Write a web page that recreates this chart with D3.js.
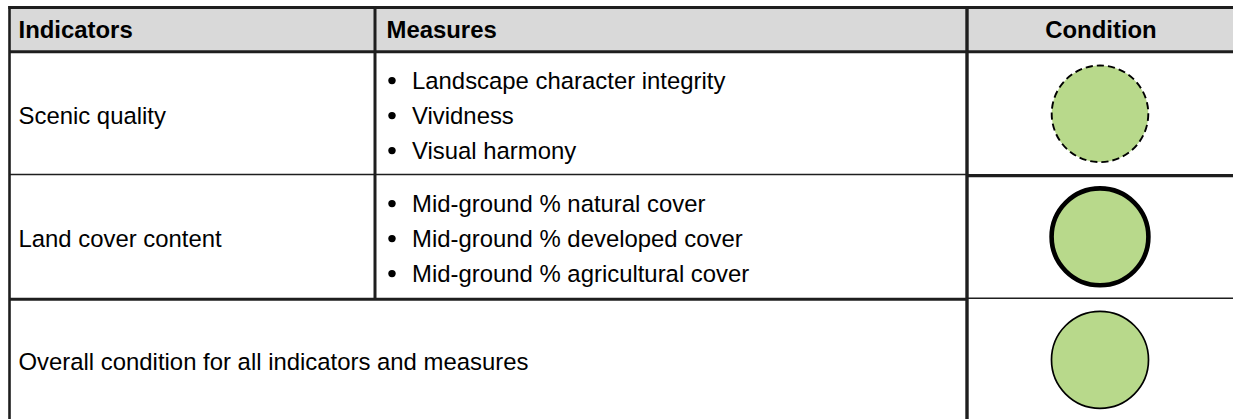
<!DOCTYPE html>
<html>
<head>
<meta charset="utf-8">
<script src="https://cdn.jsdelivr.net/npm/d3@7"></script>
<style>
  html, body { margin: 0; padding: 0; background: #fff; }
  svg { display: block; }
  text { font-family: "Liberation Sans", Arial, Helvetica, sans-serif; fill: #000; }
</style>
</head>
<body>
<svg id="chart" width="1233" height="419"></svg>
<script>
// ---- Data ----
const headers = ["Indicators", "Measures", "Condition"];
const indicators = ["Scenic quality", "Land cover content"];
const measures = [
  ["Landscape character integrity", "Vividness", "Visual harmony"],
  ["Mid-ground % natural cover", "Mid-ground % developed cover", "Mid-ground % agricultural cover"]
];
const overallLabel = "Overall condition for all indicators and measures";
const conditionStyles = ["dashed", "thick", "thin"]; // one per row (last = overall)
const conditionFill = "#b8d98b";

// ---- Layout ----
const svg = d3.select("#chart");
const W = 1233;
const lineColor = "#1e1e1e";
const fontSize = 23.9;

const rowKeys = d3.range(conditionStyles.length);
const y = d3.scaleBand().domain(rowKeys).range([52, 421]).padding(0);
const headerTop = 7.5, headerBottom = 51.7;

// column boundaries
const x = d3.scaleOrdinal().domain(["left", "measures", "condition", "right"]).range([9.5, 375, 967, 1233]);
const condCenter = (x("condition") + x("right")) / 2;

// header background
svg.append("rect")
  .attr("x", x("left")).attr("y", headerTop)
  .attr("width", W - x("left")).attr("height", headerBottom - headerTop)
  .attr("fill", "#d9d9d9");

// header texts
svg.append("text").attr("x", 18.5).attr("y", 38)
  .attr("font-size", fontSize).attr("font-weight", "bold").text(headers[0]);
svg.append("text").attr("x", 386.5).attr("y", 38)
  .attr("font-size", fontSize).attr("font-weight", "bold").text(headers[1]);
svg.append("text").attr("x", condCenter + 1).attr("y", 38).attr("text-anchor", "middle")
  .attr("font-size", fontSize).attr("font-weight", "bold").text(headers[2]);

// indicator rows
indicators.forEach((ind, i) => {
  const cy = y(i) + y.bandwidth() / 2;
  svg.append("text").attr("x", 18.5).attr("y", cy + 10)
    .attr("font-size", fontSize).text(ind);
  const g = svg.append("g");
  g.selectAll("text.m").data(measures[i]).join("text")
    .attr("class", "m")
    .attr("x", 412)
    .attr("y", (d, j) => cy + 10 + (j - 1) * 35)
    .attr("font-size", fontSize)
    .text(d => d);
  g.selectAll("circle.b").data(measures[i]).join("circle")
    .attr("class", "b")
    .attr("cx", 392)
    .attr("cy", (d, j) => cy + 10 + (j - 1) * 35 - 7.9)
    .attr("r", 3.7)
    .attr("fill", "#000");
});

// overall row
{
  const cy = y(2) + y.bandwidth() / 2;
  svg.append("text").attr("x", 18.5).attr("y", cy + 10.5)
    .attr("font-size", fontSize).text(overallLabel);
}

// condition circles
const strokeW = { dashed: 1.9, thick: 4.6, thin: 1.7 };
const radius = { dashed: 48.3, thick: 48.4, thin: 48.5 };
svg.selectAll("circle.cond").data(conditionStyles).join("circle")
  .attr("class", "cond")
  .attr("cx", condCenter)
  .attr("cy", (d, i) => y(i) + y.bandwidth() / 2 + 0.3)
  .attr("r", d => radius[d])
  .attr("fill", conditionFill)
  .attr("stroke", "#000")
  .attr("stroke-width", d => strokeW[d])
  .attr("stroke-dasharray", d => d === "dashed" ? "7.2,4" : null);

// grid lines
function line(x1, y1, x2, y2, w) {
  svg.append("line").attr("x1", x1).attr("y1", y1).attr("x2", x2).attr("y2", y2)
    .attr("stroke", lineColor).attr("stroke-width", w);
}
const r1b = y(1), r2b = y(2);
line(x("left") - 1.2, headerTop, W, headerTop, 3);           // top border
line(x("left"), headerTop - 1.5, x("left"), 419, 2.6);        // left border
line(x("left"), headerBottom, W, headerBottom, 3);            // header bottom
line(x("measures"), headerTop, x("measures"), r2b + 1, 3);   // indicators | measures
line(x("condition"), headerTop, x("condition"), 419, 3.4);   // measures | condition
line(x("left"), r1b - 0.5, x("condition"), r1b - 0.5, 1.3);  // row 1 bottom (left)
line(x("condition"), r1b + 0.7, W, r1b + 0.7, 3.3);           // row 1 bottom (condition)
line(x("left"), r2b + 1.3, x("condition"), r2b + 1.3, 3);    // row 2 bottom (left)
line(x("condition"), r2b + 0.3, W, r2b + 0.3, 1.4);           // row 2 bottom (condition)
</script>
</body>
</html>
